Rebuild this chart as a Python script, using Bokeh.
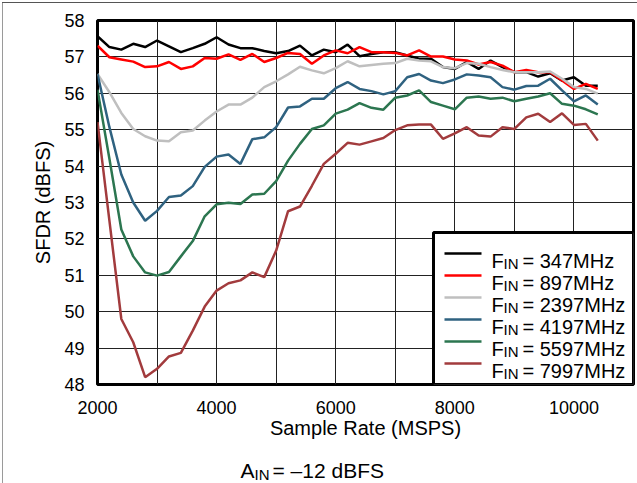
from bokeh.plotting import figure
from bokeh.layouts import column
from bokeh.models import FixedTicker, Label, BoxAnnotation, Range1d
from bokeh.embed import file_html
from bokeh.resources import INLINE

# ---------------- data ----------------
sample_rate = [2000, 2200, 2400, 2600, 2800, 3000, 3200, 3400, 3600, 3800,
               4000, 4200, 4400, 4600, 4800, 5000, 5200, 5400, 5600, 5800,
               6000, 6200, 6400, 6600, 6800, 7000, 7200, 7400, 7600, 7800,
               8000, 8200, 8400, 8600, 8800, 9000, 9200, 9400, 9600, 9800,
               10000, 10200, 10400]

sfdr_347 = [57.57, 57.27, 57.20, 57.36, 57.27, 57.45, 57.29, 57.13, 57.24, 57.36,
            57.54, 57.34, 57.24, 57.24, 57.16, 57.10, 57.16, 57.31, 57.04, 57.20,
            57.13, 57.34, 57.02, 57.08, 57.13, 57.13, 57.04, 56.95, 56.95, 56.72,
            56.67, 56.86, 56.67, 56.90, 56.72, 56.58, 56.58, 56.46, 56.55, 56.35,
            56.44, 56.21, 56.21]
sfdr_897 = [57.31, 56.99, 56.93, 56.87, 56.72, 56.74, 56.86, 56.67, 56.74, 56.97,
            56.95, 57.07, 56.92, 57.08, 56.86, 56.97, 57.11, 57.08, 56.81, 57.04,
            57.18, 57.10, 57.27, 57.13, 57.13, 57.11, 57.04, 57.18, 57.01, 57.01,
            56.93, 56.90, 56.79, 56.86, 56.76, 56.58, 56.64, 56.58, 56.58, 56.35,
            56.12, 56.26, 56.12]
sfdr_2397 = [56.53, 56.03, 55.46, 55.02, 54.82, 54.70, 54.68, 54.93, 54.98, 55.25,
             55.50, 55.69, 55.69, 55.88, 56.17, 56.33, 56.52, 56.73, 56.63, 56.55,
             56.69, 56.88, 56.74, 56.78, 56.81, 56.83, 56.95, 56.90, 56.88, 56.72,
             56.69, 56.83, 56.81, 56.72, 56.64, 56.58, 56.58, 56.58, 56.60, 56.40,
             56.17, 56.12, 55.99]
sfdr_4197 = [56.53, 55.07, 53.77, 53.00, 52.50, 52.77, 53.15, 53.19, 53.45, 53.98,
             54.26, 54.32, 54.06, 54.74, 54.79, 55.07, 55.61, 55.64, 55.85, 55.85,
             56.14, 56.31, 56.12, 56.06, 55.97, 56.06, 56.44, 56.53, 56.35, 56.28,
             56.38, 56.52, 56.49, 56.44, 56.17, 56.10, 56.20, 56.21, 56.40, 56.08,
             55.78, 55.94, 55.69]
sfdr_5597 = [56.10, 54.20, 52.26, 51.52, 51.08, 50.99, 51.09, 51.52, 51.94, 52.62,
             52.95, 52.99, 52.96, 53.22, 53.24, 53.59, 54.15, 54.61, 55.02, 55.12,
             55.44, 55.55, 55.73, 55.60, 55.55, 55.88, 55.94, 56.08, 55.76, 55.66,
             55.56, 55.88, 55.91, 55.85, 55.88, 55.78, 55.85, 55.91, 56.00, 55.71,
             55.66, 55.56, 55.42]
sfdr_7997 = [55.21, 52.50, 49.80, 49.16, 48.20, 48.43, 48.77, 48.87, 49.48, 50.14,
             50.58, 50.78, 50.86, 51.08, 50.95, 51.68, 52.76, 52.89, 53.46, 54.06,
             54.34, 54.64, 54.59, 54.68, 54.77, 54.99, 55.12, 55.14, 55.14, 54.75,
             54.90, 55.07, 54.84, 54.81, 55.07, 55.02, 55.34, 55.44, 55.21, 55.45,
             55.13, 55.16, 54.70]

series_labels = ["= 347MHz", "= 897MHz", "= 2397MHz", "= 4197MHz", "= 5597MHz", "= 7997MHz"]
series_values = [sfdr_347, sfdr_897, sfdr_2397, sfdr_4197, sfdr_5597, sfdr_7997]
series_colors = ["#000000", "#FF0000", "#BFBFBF", "#2F6280", "#2C7650", "#A23B3D"]

x_tick_values = [2000, 4000, 6000, 8000, 10000]
x_grid_values = [3000, 4000, 5000, 6000, 7000, 8000, 9000, 10000]
y_tick_values = [48, 49, 50, 51, 52, 53, 54, 55, 56, 57, 58]
y_grid_values = [49, 50, 51, 52, 53, 54, 55, 56, 57]

FONT = "Liberation Sans"
W, H = 637, 447
BL, BR, BT, BB = 97, 4, 20, 63
FW = W - BL - BR

p = figure(width=W, height=H, x_range=Range1d(2000, 11000), y_range=Range1d(48, 58),
           output_backend="svg", toolbar_location=None,
           min_border_left=BL, min_border_right=BR, min_border_top=BT, min_border_bottom=BB)
p.background_fill_color = "white"
p.border_fill_alpha = 0
p.outline_line_color = "black"
p.outline_line_width = 3

p.xaxis.ticker = FixedTicker(ticks=x_tick_values)
p.yaxis.ticker = FixedTicker(ticks=y_tick_values)
p.xgrid.ticker = FixedTicker(ticks=x_grid_values)
p.ygrid.ticker = FixedTicker(ticks=y_grid_values)
for g in (p.xgrid, p.ygrid):
    g.grid_line_color = "#222222"
    g.grid_line_width = 1
    g.grid_line_alpha = 1

for ax in (p.xaxis, p.yaxis):
    ax.axis_line_color = None
    ax.major_tick_line_color = None
    ax.minor_tick_line_color = None
    ax.major_label_text_font = FONT
    ax.major_label_text_font_size = "18px"
    ax.major_label_text_color = "black"
    ax.axis_label_text_font = FONT
    ax.axis_label_text_font_size = "20px"
    ax.axis_label_text_font_style = "normal"
    ax.axis_label_text_color = "black"

p.xaxis.axis_label = "Sample Rate (MSPS)"
p.yaxis.axis_label = "SFDR (dBFS)"
p.xaxis.major_label_standoff = 10
p.xaxis.axis_label_standoff = 0
p.yaxis.major_label_standoff = 7
p.yaxis.axis_label_standoff = 7

for vals, col in zip(series_values, series_colors):
    p.line(sample_rate, vals, line_color=col, line_width=2.5)

# ---------- legend (drawn by hand so the subscripts can be real text) ----------
LEG_W, LEG_H = 200, 152
leg_left = FW - LEG_W
p.add_layout(BoxAnnotation(left=leg_left, right=FW, bottom=0, top=LEG_H,
                           left_units="screen", right_units="screen",
                           bottom_units="screen", top_units="screen",
                           fill_color="white", fill_alpha=1,
                           line_color="black", line_width=3, line_alpha=1))
for i, (txt, col) in enumerate(zip(series_labels, series_colors)):
    cy = LEG_H - 21 - 22 * i
    p.add_layout(BoxAnnotation(left=leg_left + 11, right=leg_left + 48,
                               bottom=cy - 1.25, top=cy + 1.25,
                               left_units="screen", right_units="screen",
                               bottom_units="screen", top_units="screen",
                               fill_color=col, fill_alpha=1, line_color=None))
    base = cy - 7
    p.add_layout(Label(x=leg_left + 58, y=base, x_units="screen", y_units="screen",
                       text="F", text_font=FONT, text_font_size="20px",
                       text_baseline="alphabetic", text_color="black"))
    p.add_layout(Label(x=leg_left + 70, y=base - 3, x_units="screen", y_units="screen",
                       text="IN", text_font=FONT, text_font_size="15px",
                       text_baseline="alphabetic", text_color="black"))
    p.add_layout(Label(x=leg_left + 89, y=base, x_units="screen", y_units="screen",
                       text=txt, text_font=FONT, text_font_size="20px",
                       text_baseline="alphabetic", text_color="black"))

# ---------- note strip below the chart ----------
note = figure(width=W, height=36, x_range=Range1d(0, 1), y_range=Range1d(0, 1),
              output_backend="svg", toolbar_location=None,
              x_axis_location=None, y_axis_location=None,
              min_border_left=0, min_border_right=0, min_border_top=0, min_border_bottom=0)
note.grid.visible = False
note.outline_line_color = None
note.background_fill_color = "white"
note.border_fill_alpha = 0
note.add_layout(Label(x=143, y=13, x_units="screen", y_units="screen",
                      text="A", text_font=FONT, text_font_size="21px",
                      text_baseline="alphabetic", text_color="black"))
note.add_layout(Label(x=157, y=9, x_units="screen", y_units="screen",
                      text="IN", text_font=FONT, text_font_size="15px",
                      text_baseline="alphabetic", text_color="black"))
note.add_layout(Label(x=175, y=13, x_units="screen", y_units="screen",
                      text="= \u201312 dBFS", text_font=FONT, text_font_size="21px",
                      text_baseline="alphabetic", text_color="black"))

layout = column(p, note, spacing=0,
                styles={"background-color": "white",
                        "box-shadow": "inset 0 2px 0 0 #ffffff, inset 2px 0 0 0 #ffffff, "
                                      "inset 0 3px 0 0 #555555, inset 3px 0 0 0 #9a9a9a"})
open("out.html", "w").write(file_html(layout, INLINE))
